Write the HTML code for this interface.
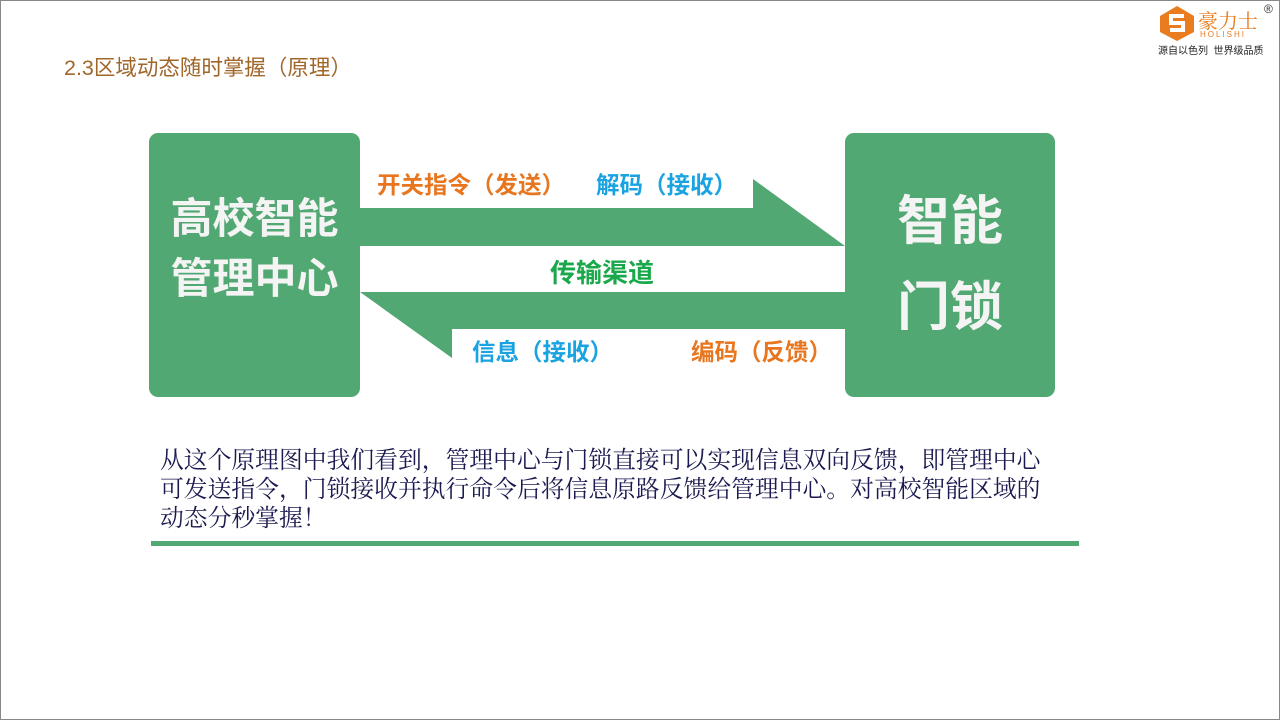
<!DOCTYPE html>
<html><head><meta charset="utf-8"><style>
body{margin:0;width:1280px;height:720px;background:#fff;position:relative;overflow:hidden;font-family:"Liberation Sans","Noto Sans CJK SC",sans-serif;}
.frame{position:absolute;left:0;top:0;width:1278px;height:718px;border:1px solid #888;}
.t{position:absolute;white-space:nowrap;}
.box{position:absolute;background:#52a872;border-radius:9px;color:#f4f4f4;font-weight:bold;text-align:center;}
</style></head><body>
<div class="frame"></div>
<div class="t" style="left:64px;top:51px;font-size:21.5px;color:#a0662a;">2.3区域动态随时掌握（原理）</div>
<svg style="position:absolute;left:1158px;top:4px" width="38" height="38" viewBox="0 0 38 38">
<polygon points="19,2 36,12 36,28 19,37 2,28 2,12" fill="#e87c1e"/>
<path d="M26 12 H13 V19 H25 V26 H12" stroke="#fff" stroke-width="4" fill="none"/>
</svg>
<div class="t" style="left:1198px;top:5px;font-size:20px;color:#e87c1e;font-family:'Noto Serif CJK SC',serif;">豪力士</div>
<div class="t" style="left:1264px;top:2px;font-size:12px;color:#333;">®</div>
<div class="t" style="left:1200px;top:30px;font-size:8px;color:#e87c1e;letter-spacing:2px;">HOLISHI</div>
<div class="t" style="left:1158px;top:42px;font-size:10px;color:#222;">源自以色列&nbsp;&nbsp;世界级品质</div>

<div class="box" style="left:149px;top:133px;width:211px;height:264px;font-size:42px;line-height:60px;padding-top:56px;box-sizing:border-box;">高校智能<br>管理中心</div>
<div class="box" style="left:845px;top:133px;width:210px;height:264px;font-size:53px;line-height:86px;padding-top:46px;box-sizing:border-box;">智能<br>门锁</div>
<svg style="position:absolute;left:0;top:0" width="1280" height="720">
<polygon points="360,208 753,208 753,179 845,246 360,246" fill="#52a872"/>
<polygon points="360,292 845,292 845,329 452,329 452,358" fill="#52a872"/>
<rect x="151" y="541" width="928" height="5" fill="#52a872"/>
</svg>
<div class="t" style="left:377px;top:166px;font-size:23.5px;font-weight:bold;color:#e8761e;">开关指令（发送）</div>
<div class="t" style="left:596px;top:166px;font-size:23.5px;font-weight:bold;color:#1aa3e0;">解码（接收）</div>
<div class="t" style="left:550px;top:253px;font-size:26px;font-weight:bold;color:#1aa84a;">传输渠道</div>
<div class="t" style="left:472px;top:333px;font-size:23.5px;font-weight:bold;color:#1aa3e0;">信息（接收）</div>
<div class="t" style="left:691px;top:333px;font-size:23.5px;font-weight:bold;color:#e8761e;">编码（反馈）</div>
<div class="t" style="left:160px;top:447px;font-size:23.8px;line-height:29px;color:#1a1a50;font-family:'Liberation Serif','Noto Serif CJK SC',serif;">从这个原理图中我们看到，管理中心与门锁直接可以实现信息双向反馈，即管理中心<br>可发送指令，门锁接收并执行命令后将信息原路反馈给管理中心。对高校智能区域的<br>动态分秒掌握！</div>
</body></html>
